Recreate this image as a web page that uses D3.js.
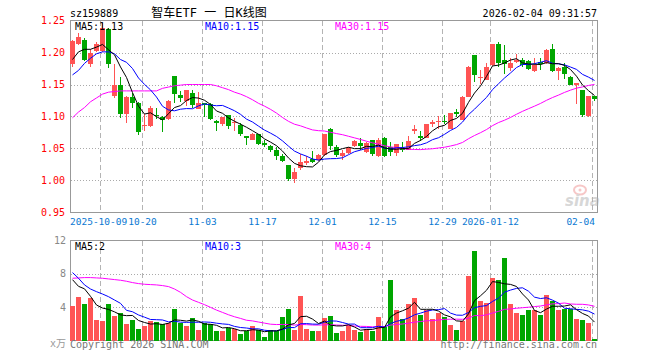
<!DOCTYPE html>
<html>
<head>
<meta charset="utf-8">
<script src="https://d3js.org/d3.v7.min.js"></script>
<style>
  body { margin: 0; background: #fff; }
  text { font-family: "DejaVu Sans Mono", "Noto Sans CJK SC", monospace; font-size: 10px; }
</style>
</head>
<body>
<div id="kline"></div>
<script>
//trading days shown on the chart
var dates = [
  "2025-09-24","2025-09-25","2025-09-26","2025-09-29","2025-09-30",
  "2025-10-09","2025-10-10","2025-10-13","2025-10-14","2025-10-15","2025-10-16","2025-10-17",
  "2025-10-20","2025-10-21","2025-10-22","2025-10-23","2025-10-24","2025-10-27","2025-10-28",
  "2025-10-29","2025-10-30","2025-10-31",
  "2025-11-03","2025-11-04","2025-11-05","2025-11-06","2025-11-07","2025-11-10","2025-11-11",
  "2025-11-12","2025-11-13","2025-11-14","2025-11-17","2025-11-18","2025-11-19","2025-11-20",
  "2025-11-21","2025-11-24","2025-11-25","2025-11-26","2025-11-27","2025-11-28",
  "2025-12-01","2025-12-02","2025-12-03","2025-12-04","2025-12-05","2025-12-08","2025-12-09",
  "2025-12-10","2025-12-11","2025-12-12","2025-12-15","2025-12-16","2025-12-17","2025-12-18",
  "2025-12-19","2025-12-22","2025-12-23","2025-12-24","2025-12-25","2025-12-26","2025-12-29",
  "2025-12-30","2025-12-31",
  "2026-01-05","2026-01-06","2026-01-07","2026-01-08","2026-01-09","2026-01-12","2026-01-13",
  "2026-01-14","2026-01-15","2026-01-16","2026-01-19","2026-01-20","2026-01-21","2026-01-22",
  "2026-01-23","2026-01-26","2026-01-27","2026-01-28","2026-01-29","2026-01-30",
  "2026-02-02","2026-02-03","2026-02-04"
];

var open = [1.182,1.214,1.220,1.182,1.203,1.203,1.237,1.132,1.150,1.104,
            1.130,1.121,1.086,1.085,1.102,1.100,1.096,1.163,1.133,1.125,
            1.137,1.112,1.121,1.120,1.093,1.089,1.102,1.090,1.086,1.070,
            1.064,1.072,1.058,1.054,1.047,1.038,1.024,1.002,1.019,1.028,
            1.033,1.032,1.040,1.080,1.053,1.039,1.043,1.054,1.058,1.045,
            1.063,1.038,1.067,1.052,1.043,1.051,1.048,1.077,1.070,1.067,
            1.089,1.091,1.093,1.081,1.107,1.095,1.131,1.196,1.160,1.157,
            1.180,1.213,1.188,1.176,1.185,1.189,1.187,1.171,1.185,1.183,
            1.205,1.171,1.178,1.162,1.150,1.141,1.101,1.132];
var high = [1.220,1.231,1.222,1.205,1.216,1.246,1.239,1.182,1.162,1.132,
            1.137,1.123,1.104,1.116,1.114,1.101,1.126,1.163,1.140,1.141,
            1.142,1.138,1.121,1.121,1.095,1.100,1.102,1.097,1.090,1.070,
            1.074,1.073,1.063,1.056,1.052,1.042,1.024,1.019,1.042,1.039,
            1.046,1.041,1.073,1.082,1.055,1.047,1.053,1.064,1.067,1.060,
            1.064,1.066,1.068,1.060,1.057,1.060,1.070,1.087,1.078,1.088,
            1.094,1.101,1.102,1.106,1.111,1.132,1.179,1.196,1.172,1.183,
            1.214,1.216,1.211,1.191,1.197,1.191,1.189,1.192,1.192,1.205,
            1.213,1.177,1.183,1.163,1.153,1.142,1.132,1.132];
var low =  [1.178,1.211,1.187,1.178,1.201,1.201,1.176,1.129,1.098,1.090,
            1.114,1.071,1.077,1.084,1.096,1.076,1.095,1.121,1.122,1.117,
            1.114,1.111,1.099,1.095,1.078,1.085,1.080,1.078,1.069,1.055,
            1.064,1.056,1.052,1.045,1.032,1.029,1.000,0.996,1.017,1.024,
            1.027,1.031,1.038,1.047,1.037,1.032,1.042,1.052,1.047,1.043,
            1.039,1.037,1.037,1.039,1.038,1.045,1.047,1.072,1.062,1.066,
            1.084,1.081,1.088,1.080,1.099,1.094,1.130,1.154,1.151,1.157,
            1.179,1.178,1.166,1.171,1.184,1.178,1.173,1.170,1.172,1.182,
            1.170,1.157,1.159,1.149,1.119,1.099,1.100,1.124];
var close = [1.218,1.224,1.188,1.199,1.213,1.239,1.182,1.149,1.104,1.131,
             1.121,1.076,1.087,1.114,1.101,1.095,1.125,1.135,1.129,1.141,
             1.118,1.121,1.118,1.096,1.090,1.100,1.085,1.092,1.073,1.066,
             1.073,1.057,1.056,1.048,1.038,1.031,1.003,1.014,1.029,1.031,
             1.029,1.040,1.072,1.054,1.040,1.043,1.051,1.061,1.054,1.058,
             1.041,1.063,1.039,1.044,1.057,1.047,1.062,1.080,1.067,1.088,
             1.091,1.093,1.092,1.105,1.104,1.131,1.178,1.165,1.161,1.178,
             1.213,1.184,1.182,1.184,1.189,1.180,1.175,1.180,1.182,1.204,
             1.171,1.176,1.166,1.150,1.152,1.102,1.132,1.128];
//volume in 万手
var volume = [4.14,5.22,4.38,5.10,2.45,2.33,4.38,2.93,3.29,1.97,
              2.45,1.37,1.73,2.33,2.21,1.97,2.09,3.78,2.09,1.73,
              2.69,1.25,2.09,1.97,1.12,1.12,1.49,1.37,0.76,1.12,
              1.73,1.25,0.40,1.25,1.12,2.81,3.78,1.25,5.34,1.37,
              1.12,1.12,2.69,2.93,0.88,1.12,1.85,1.30,1.02,1.33,
              1.16,2.81,1.57,7.27,3.65,2.53,4.38,5.10,3.05,3.65,
              2.57,3.29,2.81,1.85,1.25,2.33,7.75,10.76,4.74,4.54,
              7.55,7.27,9.92,4.38,3.29,3.05,3.65,3.65,3.05,5.46,
              4.74,3.65,3.78,3.78,2.57,2.45,2.09,0.16];

//moving average values before a full window exists (they use days before the chart)
var ma5Head = [1.189,1.201,1.205,1.205];
var ma10Head = [1.165,1.172,1.183,1.191,1.198,1.201,1.201,1.198,1.189];
var ma30Head = [1.098,1.107,1.114,1.123,1.129,1.135,1.138,1.139,1.140,1.140,
                1.140,1.140,1.140,1.140,1.140,1.144,1.146,1.148,1.149,1.150,
                1.150,1.150,1.150,1.150,1.148,1.145,1.142,1.138,1.135];
var vma5Head = [7.3,6.5,6.2,5.3];
var vma10Head = [8.15,7.47,6.67,6.18,5.86,5.58,5.26,4.86,4.46];
var vma30Head = [7.47,7.51,7.55,7.55,7.51,7.47,7.39,7.31,7.23,7.11,
                 6.95,6.83,6.75,6.71,6.67,6.59,6.47,6.18,5.78,5.26,
                 4.86,4.58,4.30,3.98,3.65,3.37,3.09,2.85,2.65];

//axis ticks
var priceTicks = [1.25,1.20,1.15,1.10,1.05,1.00,0.95];
var volTicks = [12,8,4];
var tickDates = ["2025-10-09","2025-10-20","2025-11-03","2025-11-17","2025-12-01",
                 "2025-12-15","2025-12-29","2026-01-12","2026-02-04"];
var tickLabels = ["2025-10-09","10-20","11-03","11-17","12-01","12-15","12-29","2026-01-12","02-04"];

var svgWidth = 660;
var svgHeight = 360;
var red = "#ff5454";
var green = "#00a600";

var svg = d3.select("#kline")
    .append("svg")
    .attr("width", svgWidth)
    .attr("height", svgHeight);

//step 1: scales
var x = d3.scaleBand().domain(dates).range([69.5, 597.5]);
var yPrice = d3.scaleLinear().domain([0.95, 1.25]).range([212.5, 20.5]);
var yVol = d3.scaleLinear().domain([0, 12]).range([340.5, 240.5]);
var cx = d => x(d) + 3;

function movingAvg(values, n, head) {
    return values.map(function(v, i) {
        if (i < n - 1) return head[i];
        return d3.mean(values.slice(i - n + 1, i + 1));
    });
}

var candles = dates.map(function(d, i) {
    return {date: d, o: open[i], h: high[i], l: low[i], c: close[i], v: volume[i],
            up: close[i] >= open[i]};
});

//step 2: grid + frames
function panel(yScale, yTop, yBottom, hTicks) {
    var g = svg.append("g").attr("shape-rendering", "crispEdges");
    g.selectAll(".hg").data(hTicks).enter().append("line")
        .attr("x1", 70.5).attr("x2", 597.5)
        .attr("y1", d => Math.round(yScale(d)) + 0.5).attr("y2", d => Math.round(yScale(d)) + 0.5)
        .attr("stroke", "#aaa").attr("stroke-dasharray", "1,2");
    g.selectAll(".vg").data(tickDates).enter().append("line")
        .attr("x1", d => x(d) + 1).attr("x2", d => x(d) + 1)
        .attr("y1", yTop).attr("y2", yBottom)
        .attr("stroke", "#b4b4b4").attr("stroke-dasharray", "5,3");
    g.append("rect")
        .attr("x", 70.5).attr("y", yTop)
        .attr("width", 527).attr("height", yBottom - yTop)
        .attr("fill", "none").attr("stroke", "#999");
}
panel(yPrice, 20.5, 212.5, [1.20, 1.15, 1.10, 1.05, 1.00]);
panel(yVol, 240.5, 340.5, [8, 4]);

//sina watermark
var wm = svg.append("g").attr("opacity", 0.5);
wm.append("ellipse").attr("cx", 580).attr("cy", 190).attr("rx", 6).attr("ry", 4.5)
    .attr("fill", "none").attr("stroke", "#f09090").attr("stroke-width", 2);
wm.append("circle").attr("cx", 580).attr("cy", 190).attr("r", 1.5).attr("fill", "#f09090");
wm.append("text").attr("x", 565).attr("y", 206)
    .style("font-family", "'DejaVu Sans'").style("font-size", "15px")
    .style("font-style", "italic").style("font-weight", "bold")
    .attr("fill", "#b0b0b0").text("sina");

//step 3: candles
var cg = svg.append("g");
cg.selectAll(".wick").data(candles).enter().append("line")
    .attr("x1", d => cx(d.date)).attr("x2", d => cx(d.date))
    .attr("y1", d => yPrice(d.h)).attr("y2", d => yPrice(d.l))
    .attr("stroke", d => d.up ? red : green)
    .attr("shape-rendering", "crispEdges");
cg.selectAll(".body").data(candles).enter().append("rect")
    .attr("x", d => x(d.date) + 0.5)
    .attr("y", d => yPrice(Math.max(d.o, d.c)))
    .attr("width", 5)
    .attr("height", d => Math.max(1, yPrice(Math.min(d.o, d.c)) - yPrice(Math.max(d.o, d.c))))
    .attr("fill", d => d.up ? red : green)
    .attr("shape-rendering", "crispEdges");

//step 4: volume bars
svg.append("g").selectAll("rect").data(candles).enter().append("rect")
    .attr("x", d => x(d.date) + 0.5)
    .attr("y", d => yVol(d.v))
    .attr("width", 5)
    .attr("height", d => yVol(0) - yVol(d.v))
    .attr("fill", d => d.up ? red : green)
    .attr("shape-rendering", "crispEdges");

//step 5: moving average lines
function maLine(values, yScale, color) {
    var line = d3.line().x((v, i) => cx(dates[i])).y(v => yScale(v));
    svg.append("path").datum(values)
        .attr("d", line).attr("fill", "none")
        .attr("stroke", color).attr("stroke-width", 1);
}
maLine(movingAvg(close, 30, ma30Head), yPrice, "#ff00ff");
maLine(movingAvg(close, 10, ma10Head), yPrice, "#0000ff");
maLine(movingAvg(close, 5, ma5Head), yPrice, "#000");
maLine(movingAvg(volume, 30, vma30Head), yVol, "#ff00ff");
maLine(movingAvg(volume, 10, vma10Head), yVol, "#0000ff");
maLine(movingAvg(volume, 5, vma5Head), yVol, "#000");

//step 6: axis labels
svg.append("g").selectAll("text").data(priceTicks).enter().append("text")
    .attr("x", 65).attr("y", d => yPrice(d) + 3.5)
    .attr("text-anchor", "end").attr("fill", "#f00")
    .text(d => d.toFixed(2));

svg.append("g").selectAll("text").data(volTicks).enter().append("text")
    .attr("x", 66).attr("y", d => yVol(d) + 3.5)
    .attr("text-anchor", "end").attr("fill", "#888")
    .text(d => d);
svg.append("text").attr("x", 66).attr("y", 347)
    .attr("text-anchor", "end").attr("fill", "#999").text("x万");

//date labels: first one starts at the frame, last one ends at it
svg.append("g").selectAll("text").data(tickDates).enter().append("text")
    .attr("x", function(d, i) {
        if (i == 0) return 70;
        if (i == tickDates.length - 1) return 595;
        return x(d) + 1;
    })
    .attr("y", 225)
    .attr("text-anchor", function(d, i) {
        if (i == 0) return "start";
        return i == tickDates.length - 1 ? "end" : "middle";
    })
    .style("font-size", "9.5px")
    .attr("fill", "#0a78d2")
    .text((d, i) => tickLabels[i]);

//step 7: header, legends, footer
svg.append("text").attr("x", 70).attr("y", 17).attr("fill", "#000").text("sz159889");
svg.append("text").attr("x", 209).attr("y", 17).attr("text-anchor", "middle")
    .style("font-size", "12px").attr("fill", "#000").text("智车ETF 一 日K线图");
svg.append("text").attr("x", 597).attr("y", 17).attr("text-anchor", "end")
    .attr("fill", "#000").text("2026-02-04 09:31:57");

var legends = [
    {x: 75, y: 29.5, t: "MA5:1.13", c: "#000"},
    {x: 205, y: 29.5, t: "MA10:1.15", c: "#0000ff"},
    {x: 335, y: 29.5, t: "MA30:1.15", c: "#ff00ff"},
    {x: 75, y: 249.5, t: "MA5:2", c: "#000"},
    {x: 205, y: 249.5, t: "MA10:3", c: "#0000ff"},
    {x: 335, y: 249.5, t: "MA30:4", c: "#ff00ff"}
];
svg.append("g").selectAll("text").data(legends).enter().append("text")
    .attr("x", d => d.x).attr("y", d => d.y).attr("fill", d => d.c).text(d => d.t);

svg.append("text").attr("x", 70).attr("y", 348).attr("fill", "#777")
    .text("Copyright 2026 SINA.COM");
svg.append("text").attr("x", 597).attr("y", 348).attr("text-anchor", "end")
    .attr("fill", "#777").text("http://finance.sina.com.cn");
</script>
</body>
</html>
